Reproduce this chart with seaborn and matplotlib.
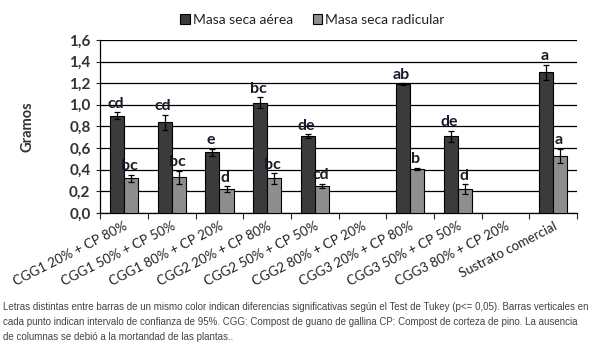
import numpy as np
import pandas as pd
import matplotlib
matplotlib.use("Agg")
import matplotlib.pyplot as plt
import seaborn as sns

categories = ["CGG1 20% + CP 80%", "CGG1 50% + CP 50%", "CGG1 80% + CP 20%",
              "CGG2 20% + CP 80%", "CGG2 50% + CP 50%", "CGG2 80% + CP 20%",
              "CGG3 20% + CP 80%", "CGG3 50% + CP 50%", "CGG3 80% + CP 20%",
              "Sustrato comercial"]
series = ["Masa seca aérea", "Masa seca radicular"]
aerea = [0.90, 0.84, 0.56, 1.02, 0.71, np.nan, 1.19, 0.71, np.nan, 1.30]
radicular = [0.32, 0.33, 0.22, 0.32, 0.25, np.nan, 0.41, 0.22, np.nan, 0.53]
aerea_err = [0.035, 0.07, 0.035, 0.05, 0.02, np.nan, 0.01, 0.05, np.nan, 0.07]
radicular_err = [0.035, 0.06, 0.025, 0.05, 0.02, np.nan, 0.01, 0.045, np.nan, 0.065]
aerea_letters = ["cd", "cd", "e", "bc", "de", "", "ab", "de", "", "a"]
radicular_letters = ["bc", "bc", "d", "bc", "cd", "", "b", "d", "", "a"]
yticks = [0.0, 0.2, 0.4, 0.6, 0.8, 1.0, 1.2, 1.4, 1.6]
caption = ("Letras distintas entre barras de un mismo color indican diferencias significativas según el Test de Tukey (p<= 0,05). Barras verticales en\n"
           "cada punto indican intervalo de confianza de 95%. CGG: Compost de guano de gallina CP: Compost de corteza de pino. La ausencia\n"
           "de columnas se debió a la mortandad de las plantas..")

rows = []
for i, c in enumerate(categories):
    rows.append({"cat": c, "serie": series[0], "val": aerea[i]})
    rows.append({"cat": c, "serie": series[1], "val": radicular[i]})
df = pd.DataFrame(rows).dropna()

errs = {series[0]: aerea_err, series[1]: radicular_err}
letters = {series[0]: aerea_letters, series[1]: radicular_letters}

sns.set_style("white")
plt.rcParams["font.family"] = ["Lato", "DejaVu Sans"]

fig = plt.figure(figsize=(5.9, 3.44), dpi=100)
ax = fig.add_axes([0.170, 0.381, 0.808, 0.503])

palette = {series[0]: "#3b3b3b", series[1]: "#8e8e8e"}
sns.barplot(data=df, x="cat", y="val", hue="serie", order=categories,
            hue_order=series, palette=palette, width=0.6, errorbar=None,
            edgecolor="black", linewidth=0.8, saturation=1, ax=ax, zorder=3)

bar_containers = list(ax.containers)
for j, container in enumerate(bar_containers):
    s = series[j]
    for bar in container:
        h = bar.get_height()
        if h is None or np.isnan(h):
            continue
        xc = bar.get_x() + bar.get_width() / 2
        i = int(round(xc))
        e = errs[s][i]
        ax.errorbar(xc, h, yerr=e, fmt="none", ecolor="black",
                    elinewidth=0.9, capsize=2.5, capthick=0.9, zorder=4)
        ax.text(xc - 0.03, h + e + 0.012, letters[s][i], ha="center", va="bottom",
                fontsize=11.5, fontweight="bold", color="#1a1a2a", zorder=5)

ax.set_ylim(0, 1.6)
ax.set_xlim(-0.5, len(categories) - 0.5)
ax.set_yticks(yticks)
ax.set_yticklabels([f"{t:.1f}".replace(".", ",") for t in yticks],
                   fontsize=11, fontweight="bold", color="#333333")
ax.yaxis.grid(True, color="black", linewidth=0.9, zorder=0)
ax.set_axisbelow(True)
ax.set_xticks(np.arange(len(categories)))
ax.set_xticklabels(categories, rotation=27, ha="right", rotation_mode="anchor",
                   fontsize=9.5, color="#222222")
ax.tick_params(axis="x", length=0, pad=5)
ax.tick_params(axis="y", length=3, direction="out", left=True, width=0.8, pad=4)
ax.set_xticks(np.arange(-0.5, len(categories)), minor=True)
ax.tick_params(axis="x", which="minor", length=4, direction="out", bottom=True, width=0.8)
for sp in ["top", "right"]:
    ax.spines[sp].set_visible(False)
for sp in ["left", "bottom"]:
    ax.spines[sp].set_color("black")
    ax.spines[sp].set_linewidth(0.9)

ax.set_xlabel("")
ax.set_ylabel("Gramos", fontsize=10.5, fontweight="bold", color="#333333", labelpad=25)

leg = ax.legend(loc="lower center", bbox_to_anchor=(0.445, 1.05), ncol=2,
                frameon=False, fontsize=10, handlelength=0.7, handleheight=0.7,
                columnspacing=1.4, handletextpad=0.2, borderaxespad=0)
for t in leg.get_texts():
    t.set_color("#222222")

fig.text(0.005, 0.122, caption, fontsize=7.0, color="#444444", va="top", ha="left",
         family=["Liberation Sans", "DejaVu Sans"], linespacing=1.6)

fig.savefig("out.png", dpi=100, facecolor="white")
